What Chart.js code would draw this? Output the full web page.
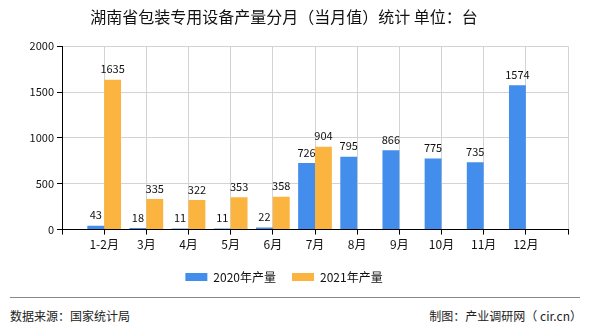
<!DOCTYPE html>
<html>
<head>
<meta charset="utf-8">
<script src="https://cdn.jsdelivr.net/npm/chart.js@4/dist/chart.umd.min.js"></script>
<style>
  html, body { margin: 0; padding: 0; background: #fff; }
  #wrap { position: relative; width: 590px; height: 330px; font-family: "Noto Sans CJK SC", sans-serif; }
  #chartBox { position: absolute; left: 0; top: 0; width: 590px; height: 296px; }
  #rule { position: absolute; left: 10px; top: 297px; width: 570px; height: 0; border-top: 1px solid #888; }
  .foot { position: absolute; top: 307px; font-size: 12px; color: #222; line-height: 18px; }
</style>
</head>
<body>
<div id="wrap">
  <div id="chartBox"><canvas id="c"></canvas></div>
  <div id="rule"></div>
  <div class="foot" style="left:10px">数据来源：国家统计局</div>
  <div class="foot" style="right:8px">制图：产业调研网（ cir.cn）</div>
</div>
<script>
const TITLE = "湖南省包装专用设备产量分月（当月值）统计 单位：台";
const MONTHS = ["1-2月", "3月", "4月", "5月", "6月", "7月", "8月", "9月", "10月", "11月", "12月"];
const Y2020 = [43, 18, 11, 11, 22, 726, 795, 866, 775, 735, 1574];
const Y2021 = [1635, 335, 322, 353, 358, 904];
const Y_TICKS = [0, 500, 1000, 1500, 2000];

const BLUE = "rgb(67,141,236)";
const ORANGE = "rgb(251,180,64)";

// 两端留空位，让月份落在网格线上
const labels = ["", ...MONTHS, ""];
const pad = arr => [null, ...MONTHS.map((m, i) => arr[i] ?? null), null];

// 柱顶数值标签
const valueLabels = {
  id: "valueLabels",
  afterDatasetsDraw(chart) {
    const ctx = chart.ctx;
    ctx.save();
    ctx.font = "11px 'Noto Sans CJK SC', sans-serif";
    ctx.fillStyle = "#111";
    ctx.textAlign = "center";
    ctx.textBaseline = "bottom";
    chart.data.datasets.forEach((ds, di) => {
      chart.getDatasetMeta(di).data.forEach((bar, i) => {
        const v = ds.data[i];
        if (v === null || v === undefined) return;
        ctx.fillText(String(v), bar.x, bar.y - 5);
      });
    });
    ctx.restore();
  }
};

new Chart(document.getElementById("c"), {
  type: "bar",
  data: {
    labels: labels,
    datasets: [
      { label: "2020年产量", data: pad(Y2020), backgroundColor: BLUE },
      { label: "2021年产量", data: pad(Y2021), backgroundColor: ORANGE }
    ]
  },
  options: {
    responsive: true,
    maintainAspectRatio: false,
    animation: false,
    datasets: { bar: { categoryPercentage: 0.8, barPercentage: 1.0 } },
    layout: { padding: { left: 0, right: 22, top: 0, bottom: 3 } },
    plugins: {
      title: {
        display: true,
        text: TITLE,
        color: "#111",
        font: { size: 16, weight: "normal", family: "'Noto Sans CJK SC', sans-serif" },
        padding: { top: 7, bottom: 20 }
      },
      legend: {
        position: "bottom",
        labels: {
          boxWidth: 22,
          boxHeight: 8,
          padding: 16,
          color: "#111",
          font: { size: 12, family: "'Noto Sans CJK SC', sans-serif" }
        }
      },
      tooltip: { enabled: false }
    },
    scales: {
      x: {
        offset: false,
        grid: { color: "#d3d3d3", tickColor: "#000", tickLength: 5, offset: false },
        border: { color: "#000" },
        ticks: {
          color: "#111",
          maxRotation: 0,
          autoSkip: false,
          padding: 3,
          font: { size: 12, family: "'Noto Sans CJK SC', sans-serif" }
        }
      },
      y: {
        min: 0,
        max: 2000,
        afterFit: s => { s.width = 62; },
        afterBuildTicks: s => { s.ticks = Y_TICKS.map(v => ({ value: v })); },
        grid: { color: "#d3d3d3", tickColor: "#000", tickLength: 5 },
        border: { color: "#000" },
        ticks: {
          color: "#111",
          padding: 3,
          callback: v => String(v),
          font: { size: 11, family: "'Noto Sans CJK SC', sans-serif" }
        }
      }
    }
  },
  plugins: [valueLabels]
});
</script>
</body>
</html>
